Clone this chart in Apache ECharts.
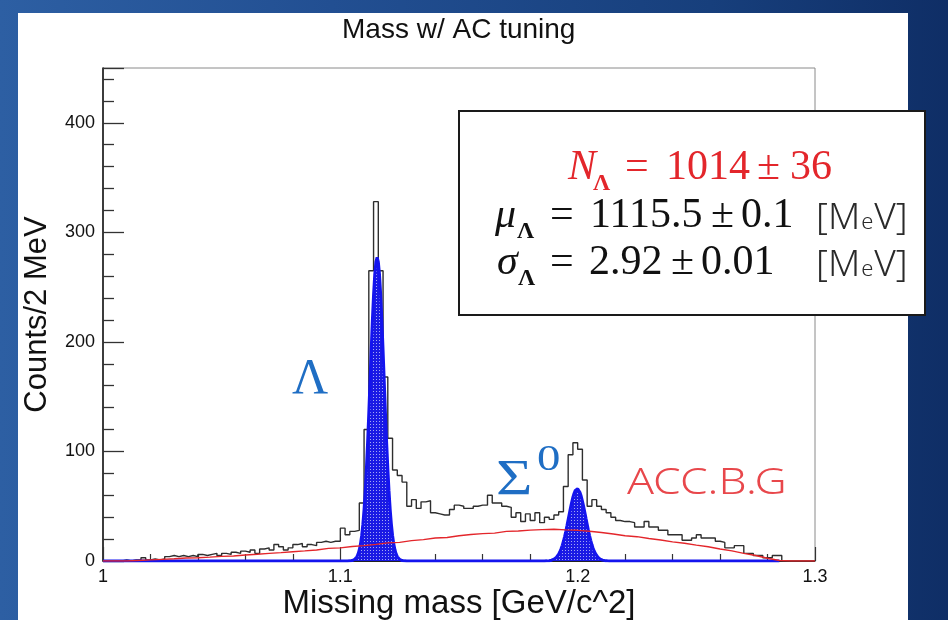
<!DOCTYPE html>
<html>
<head>
<meta charset="utf-8">
<script src="https://cdn.jsdelivr.net/npm/echarts@6/dist/echarts.min.js"></script>
<style>
  html, body { margin: 0; padding: 0; width: 948px; height: 620px; overflow: hidden;
    background: linear-gradient(90deg, #2d5fa3 0%, #224f92 35%, #173f7c 75%, #0f2e66 100%); }
  #panel { position: absolute; left: 18px; top: 13px; width: 890px; height: 607px; background: #fff; }
  #chart { position: absolute; left: 0; top: 0; width: 948px; height: 620px; }
</style>
</head>
<body>
<div id="panel"></div>
<div id="chart"></div>
<script>
// Missing-mass spectrum, 2 MeV bins from 1.000 GeV/c^2
const binStart = 1.0;
const binWidth = 0.002;
const counts = [
  0, 0, 0, 0, 1, 0, 1, 1, 3, 1,
  2, 1, 2, 4, 5, 4, 5, 4, 5, 4,
  6, 5, 6, 7, 5, 7, 6, 8, 7, 9,
  8, 10, 7, 11, 12, 10, 15, 13, 10, 12,
  15, 16, 13, 15, 14, 17, 18, 17, 18, 18,
  30, 24, 27, 28, 53, 120, 265, 328, 265, 168,
  112, 83, 78, 72, 50, 56, 48, 54, 55, 44,
  43, 42, 42, 47, 51, 50, 48, 48, 50, 51,
  51, 60, 53, 53, 50, 49, 40, 44, 36, 43,
  37, 44, 35, 40, 38, 42, 45, 68, 97, 108,
  102, 74, 50, 56, 50, 47, 44, 40, 37, 36,
  36, 35, 31, 31, 36, 31, 31, 28, 28, 24,
  24, 24, 19, 19, 21, 24, 21, 21, 21, 18,
  17, 12, 12, 14, 14, 7, 7, 5, 5, 3,
  3, 5, 5, 0, 0, 0, 0, 0, 0, 0
];

// Accidental background (ACC.B.G), sampled every 5 MeV
const bgMass = [
  1.000, 1.005, 1.010, 1.015, 1.020, 1.025, 1.030, 1.035, 1.040, 1.045,
  1.050, 1.055, 1.060, 1.065, 1.070, 1.075, 1.080, 1.085, 1.090, 1.095,
  1.100, 1.105, 1.110, 1.115, 1.120, 1.125, 1.130, 1.135, 1.140, 1.145,
  1.150, 1.155, 1.160, 1.165, 1.170, 1.175, 1.180, 1.185, 1.190, 1.195,
  1.200, 1.205, 1.210, 1.215, 1.220, 1.225, 1.230, 1.235, 1.240, 1.245,
  1.250, 1.255, 1.260, 1.265, 1.270, 1.275, 1.280, 1.285, 1.290, 1.295, 1.300
];
const bgCounts = [
  0, 0, 0, 0.5, 1, 1.5, 2, 2.8, 3, 3.5,
  4.2, 4.5, 5.5, 6.2, 7, 7.6, 8.5, 9.2, 10, 11.5,
  12, 13.2, 14, 15.2, 16.5, 17, 18.6, 19.5, 21, 21.4,
  23, 24.2, 25, 25.4, 27, 27.4, 28.2, 28.6, 29, 28.4,
  28, 27.2, 26, 24.6, 23, 22.2, 20.5, 19.2, 17.5, 16.2,
  14.5, 13, 11, 9.2, 7, 5, 2.5, 0.5, 0, 0, 0
];

// Gaussian fit results: Lambda from the quoted yield/mean/width, Sigma0 peak
const lambdaFit = { yield: 1014, mean: 1.1155, sigma: 0.00292 };
const sigma0Fit = { height: 66, mean: 1.1998, sigma: 0.0036 };
const fitRange = [1.0, 1.285];

const xRange = [1.0, 1.3];
const yRange = [0, 450];

// ---- series data built from the arrays above ----
const histData = counts.map((c, i) => [+(binStart + i * binWidth).toFixed(3), c]);
histData.push([+(binStart + counts.length * binWidth).toFixed(3), counts[counts.length - 1]]);

const bgData = bgMass.map((m, i) => [m, bgCounts[i]]);

function gauss(x, h, mu, s) { return h * Math.exp(-0.5 * ((x - mu) / s) ** 2); }
const lambdaHeight = lambdaFit.yield * binWidth / (lambdaFit.sigma * Math.sqrt(2 * Math.PI));
const fitData = [];
for (let k = 0; ; k++) {
  const x = +(fitRange[0] + k * 0.0005).toFixed(4);
  if (x > fitRange[1] + 1e-9) break;
  fitData.push([x, gauss(x, lambdaHeight, lambdaFit.mean, lambdaFit.sigma) +
                   gauss(x, sigma0Fit.height, sigma0Fit.mean, sigma0Fit.sigma)]);
}

// cross-hatched fill for the fitted peaks
const hatch = document.createElement('canvas');
hatch.width = 3; hatch.height = 3;
const hctx = hatch.getContext('2d');
hctx.fillStyle = '#1a1ae4';
hctx.fillRect(0, 0, 3, 3);
hctx.fillStyle = '#a3a8f3';
hctx.fillRect(1, 1, 1, 1);

const chart = echarts.init(document.getElementById('chart'), null, { renderer: 'canvas' });

const serif = '"Liberation Serif", "DejaVu Serif", serif';
const sans = '"Liberation Sans", Arial, sans-serif';
const light = '"Noto Sans", "Liberation Sans", sans-serif';

function piece(text, x, y, size, color, extra) {
  return {
    type: 'text', z: 110,
    style: Object.assign({ text: text, x: x, y: y, fill: color,
      font: 'normal ' + size + 'px ' + serif, verticalAlign: 'middle', align: 'left' }, extra || {})
  };
}
function unitMeV(x, y) {
  return {
    type: 'text', z: 110,
    style: {
      x: x, y: y, verticalAlign: 'middle', align: 'left',
      text: '{b|[M}{s|e}{b|V]}',
      rich: {
        b: { fontFamily: light, fontSize: 37, fontWeight: 300, fill: '#2a2a2a' },
        s: { fontFamily: light, fontSize: 22, fontWeight: 300, fill: '#2a2a2a', padding: [10, 1, 0, 1] }
      }
    }
  };
}

const red = '#e3262b';
const ink = '#111';
const boxText = [
  piece('N', 568, 168, 42, red, { font: 'italic 42px ' + serif }),
  piece('\u039B', 593, 184, 24, red, { font: 'bold 24px ' + serif }),
  piece('=', 625, 168, 42, red),
  piece('1014', 666, 168, 42, red),
  piece('\u00B1', 757, 168, 42, red),
  piece('36', 790, 168, 42, red),

  piece('\u03BC', 495, 216, 42, ink, { font: 'italic 42px ' + serif }),
  piece('\u039B', 517, 232, 24, ink, { font: 'bold 24px ' + serif }),
  piece('=', 550, 216, 42, ink),
  piece('1115.5', 590, 216, 42, ink),
  piece('\u00B1', 711, 216, 42, ink),
  piece('0.1', 741, 216, 42, ink),
  unitMeV(816, 218),

  piece('\u03C3', 497, 263, 42, ink, { font: 'italic 42px ' + serif }),
  piece('\u039B', 518, 279, 24, ink, { font: 'bold 24px ' + serif }),
  piece('=', 550, 263, 42, ink),
  piece('2.92', 589, 263, 42, ink),
  piece('\u00B1', 671, 263, 42, ink),
  piece('0.01', 701, 263, 42, ink),
  unitMeV(816, 265)
];

const labelBlue = '#1f6ec4';

chart.setOption({
  animation: false,
  backgroundColor: 'transparent',
  title: {
    text: 'Mass w/ AC tuning',
    left: 337, top: 11,
    textStyle: { fontFamily: sans, fontSize: 28, fontWeight: 'normal', color: '#111' }
  },
  grid: {
    left: 103, right: 133, top: 68, bottom: 59,
    outerBoundsMode: 'none', containLabel: false,
    show: true, borderColor: '#8a8a8a', borderWidth: 1, backgroundColor: 'transparent'
  },
  xAxis: {
    type: 'value', min: xRange[0], max: xRange[1], interval: 0.1,
    name: 'Missing mass [GeV/c^2]', nameLocation: 'middle', nameGap: 26, nameMoveOverlap: false,
    nameTextStyle: { fontFamily: sans, fontSize: 33, color: '#111', verticalAlign: 'top' },
    axisLine: { show: true, lineStyle: { color: '#222', width: 1 } },
    axisTick: { show: true, inside: true, length: 14, lineStyle: { color: '#333', width: 1.2 } },
    minorTick: { show: true, splitNumber: 5, length: 7, lineStyle: { color: '#333', width: 1.2 } },
    splitLine: { show: false },
    axisLabel: { fontFamily: sans, fontSize: 18, color: '#111', margin: 7,
      formatter: v => String(+v.toFixed(1)) }
  },
  yAxis: {
    type: 'value', min: yRange[0], max: yRange[1], interval: 100,
    name: 'Counts/2 MeV', nameLocation: 'middle', nameGap: 50, nameRotate: 90, nameMoveOverlap: false,
    nameTextStyle: { fontFamily: sans, fontSize: 31, color: '#111' },
    axisLine: { show: true, lineStyle: { color: '#1a1a1a', width: 1.6 } },
    axisTick: { show: true, inside: true, length: 21, lineStyle: { color: '#333', width: 1.3 } },
    minorTick: { show: true, splitNumber: 5, length: 11, lineStyle: { color: '#333', width: 1.3 } },
    splitLine: { show: false },
    axisLabel: { fontFamily: sans, fontSize: 18, color: '#111', margin: 8, showMaxLabel: false }
  },
  series: [
    {
      name: 'Data', type: 'line', data: histData, step: 'end',
      showSymbol: false, symbol: 'none', z: 2,
      lineStyle: { color: '#2e2e2e', width: 1.4 }
    },
    {
      name: 'Fit', type: 'line', data: fitData, smooth: false,
      showSymbol: false, symbol: 'none', z: 3,
      lineStyle: { color: '#1414ee', width: 3 },
      areaStyle: { color: { image: hatch, repeat: 'repeat' }, opacity: 1 }
    },
    {
      name: 'ACC.B.G', type: 'line', data: bgData, smooth: false,
      showSymbol: false, symbol: 'none', z: 4,
      lineStyle: { color: red, width: 1.4 }
    }
  ],
  graphic: [
    { type: 'rect', z: 100, shape: { x: 459, y: 111, width: 466, height: 204 },
      style: { fill: '#fff', stroke: '#1a1a1a', lineWidth: 2 } },
    ...boxText,
    { type: 'text', z: 90, style: { text: '\u039B', x: 292, y: 380, font: 'normal 50px ' + serif,
        fill: labelBlue, verticalAlign: 'middle', align: 'left' } },
    { type: 'text', z: 90, x: 496, y: 481, scaleX: 1.25,
      style: { text: '\u03A3', x: 0, y: 0, font: 'normal 50px ' + serif,
        fill: labelBlue, verticalAlign: 'middle', align: 'left' } },
    { type: 'text', z: 90, x: 537, y: 461, scaleX: 1.3,
      style: { text: '0', x: 0, y: 0, font: 'normal 36px ' + serif,
        fill: labelBlue, verticalAlign: 'middle', align: 'left' } },
    { type: 'text', z: 90, x: 627, y: 483, scaleX: 1.2,
      style: { text: 'ACC.B.G', x: 0, y: 0, font: '300 37px ' + light,
        fill: '#e8474b', verticalAlign: 'middle', align: 'left' } }
  ]
});
</script>
</body>
</html>
